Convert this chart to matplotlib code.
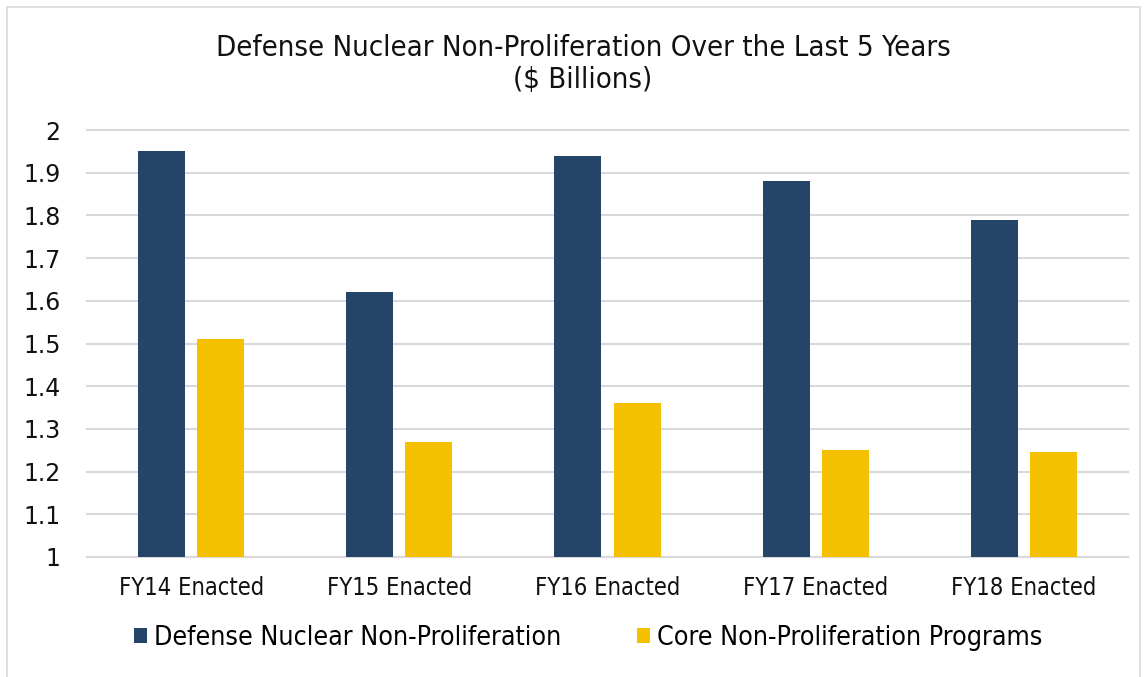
import matplotlib
matplotlib.use("Agg")
import matplotlib.pyplot as plt
import numpy as np
from matplotlib.patches import Rectangle

categories = ["FY14 Enacted", "FY15 Enacted", "FY16 Enacted", "FY17 Enacted", "FY18 Enacted"]
dnn = [1.95, 1.62, 1.94, 1.88, 1.79]
core = [1.51, 1.27, 1.36, 1.25, 1.245]
series_names = ["Defense Nuclear Non-Proliferation", "Core Non-Proliferation Programs"]
yticks = [1, 1.1, 1.2, 1.3, 1.4, 1.5, 1.6, 1.7, 1.8, 1.9, 2]
ytick_labels = ["1", "1.1", "1.2", "1.3", "1.4", "1.5", "1.6", "1.7", "1.8", "1.9", "2"]

plt.rcParams['font.family'] = ['DejaVu Sans']
plt.rcParams['font.stretch'] = 'condensed'

W, H = 1148, 677
fig = plt.figure(figsize=(W/100, H/100), dpi=100)
fig.patch.set_facecolor("white")
fig.add_artist(Rectangle((7/W, -0.01), (1140-7)/W, (677-7)/H + 0.01, transform=fig.transFigure,
                         fill=False, edgecolor="#d9d9d9", lw=1.2))

left, right, top, bottom = 87, 1128, 130, 557
ax = fig.add_axes([left/W, 1-bottom/H, (right-left)/W, (bottom-top)/H])

x = np.arange(len(categories))
bw = 0.226
off = 0.142
dark = "#244468"
gold = "#f5c000"
ax.bar(x - off, dnn, bw, color=dark, zorder=3, label=series_names[0])
ax.bar(x + off, core, bw, color=gold, zorder=3, label=series_names[1])

ax.set_xlim(-0.5, len(categories) - 0.5)
ax.set_ylim(1, 2)
ax.set_yticks(yticks)
ax.set_yticklabels(ytick_labels)
ax.set_xticks(x)
ax.set_xticklabels(categories)
ax.grid(axis="y", color="#d9d9d9", lw=1.5, zorder=0)
for gl in ax.get_ygridlines():
    gl.set_clip_on(False)
for s in ["top", "right", "left"]:
    ax.spines[s].set_visible(False)
ax.spines["bottom"].set_color("#d9d9d9")
ax.spines["bottom"].set_linewidth(1.5)
ax.tick_params(axis="both", length=0, labelsize=17, colors="#111111")
ax.tick_params(axis="y", pad=19)
ax.tick_params(axis="x", pad=14)
for lbl in ax.get_yticklabels():
    lbl.set_fontstretch("normal")

fig.text(583/W, 1-64/H, "Defense Nuclear Non-Proliferation Over the Last 5 Years\n($ Billions)",
         ha="center", va="center", fontsize=21, color="#111111", linespacing=1.2)

leg = fig.legend(loc="center", bbox_to_anchor=(588/W, 1-638/H), ncol=2, frameon=False,
                 fontsize=19.2, handlelength=0.5, handleheight=0.5, handletextpad=0.25,
                 columnspacing=2.85)

fig.savefig("out.png", dpi=100)
